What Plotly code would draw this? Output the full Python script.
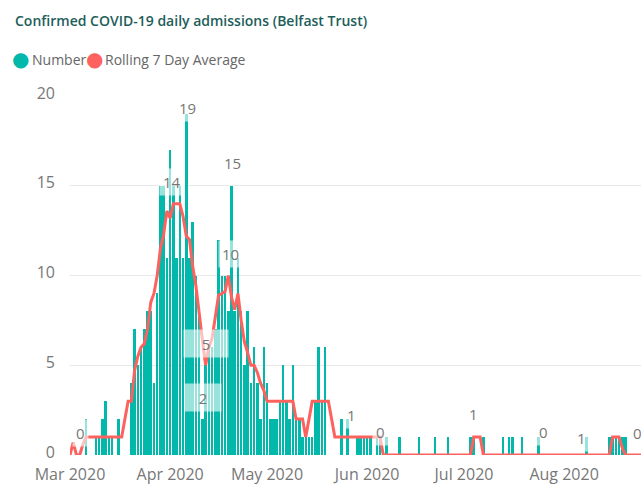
import pandas as pd
import plotly.graph_objects as go

# Daily confirmed COVID-19 admissions, Belfast Trust, from 1 March 2020
start_date = "2020-03-01"

admissions_mar = [0, 0, 0, 0, 0, 2, 0, 0, 1, 1,
                  2, 3, 1, 1, 0, 2, 0, 0, 0, 4,
                  7, 5, 6, 7, 8, 8, 4, 9, 15, 15,
                  11]
admissions_apr = [17, 15, 11, 15, 11, 19, 11, 13, 10, 8,
                  2, 5, 6, 6, 7, 12, 10, 10, 8, 15,
                  8, 11, 8, 5, 8, 4, 6, 4, 2, 6]
admissions_may = [4, 2, 2, 2, 3, 5, 3, 2, 5, 2,
                  2, 1, 1, 1, 1, 3, 6, 3, 6, 0,
                  0, 0, 0, 2, 0, 2, 0, 0, 1, 1,
                  1]
admissions_jun = [1, 1, 0, 1, 1, 0, 1, 0, 0, 0,
                  1, 0, 0, 0, 0, 0, 1, 0, 0, 0,
                  0, 1, 0, 0, 0, 1, 0, 0, 0, 0]
admissions_jul = [0, 0, 1, 1, 0, 0, 1, 0, 0, 0,
                  0, 0, 1, 0, 1, 1, 0, 0, 1, 0,
                  0, 0, 0, 1, 0, 0, 0, 0, 0, 0,
                  0]
admissions_aug = [0, 0, 0, 0, 0, 0, 0, 1, 0, 0,
                  0, 0, 0, 0, 1, 1, 1, 1, 1, 1,
                  0, 0, 0, 0, 0]

rolling_mar = [0, 0.7, 0, 0, 0.6, 1, 1, 1, 1, 1,
               1, 1, 1, 1, 1, 1, 1, 2, 3, 3,
               4.7, 5.5, 6, 6.2, 7, 8.5, 9, 10, 11.5, 12.3,
               13.6]
rolling_apr = [13.2, 14, 14, 14, 13.3, 12.2, 12, 10.5, 9.4, 7.8,
               6.4, 5, 6, 6.5, 7.6, 8.9, 9, 9.1, 10, 8.8,
               8.1, 9, 7.5, 6.3, 5.7, 5, 5, 4.6, 4, 3.6]
rolling_may = [3, 3, 3, 3, 3, 3, 3, 3, 3, 2,
               2, 2, 1, 2, 3, 3, 3, 3, 3, 3,
               2, 1, 1, 1, 1, 1, 1, 1, 1, 1,
               1]
rolling_jun = [1, 1, 1, 1, 1, 0, 0, 0, 0, 0,
               0, 0, 0, 0, 0, 0, 0, 0, 0, 0,
               0, 0, 0, 0, 0, 0, 0, 0, 0, 0]
rolling_jul = [0, 0, 0, 1, 1, 1, 0, 0, 0, 0,
               0, 0, 0, 0, 0, 0, 0, 0, 0, 0,
               0, 0, 0, 0, 0, 0, 0, 0, 0, 0,
               0]
rolling_aug = [0, 0, 0, 0, 0, 0, 0, 0, 0, 0,
               0, 0, 0, 0, 0, 1, 1, 1, 0.4, 0,
               0, 0, 0, 0, 0]

admissions = (admissions_mar + admissions_apr + admissions_may
              + admissions_jun + admissions_jul + admissions_aug)
rolling_avg = (rolling_mar + rolling_apr + rolling_may
               + rolling_jun + rolling_jul + rolling_aug)
dates = pd.date_range(start_date, periods=len(admissions), freq="D")

# Data labels: (series, day index, x shift px, y shift px)
labels = [
    ("avg", 3, 1, 22),
    ("avg", 32, -1, 22),
    ("num", 36, 1, 6),
    ("num", 50, 1, 23),
    ("avg", 49, 2, 22),
    ("avg", 42, 0, 22),
    ("num", 41, 1, 22),
    ("avg", 87, 1, 22),
    ("avg", 97, -3, 23),
    ("avg", 125, 0, 23),
    ("avg", 147, -1, 23),
    ("num", 160, -5, -1),
    ("avg", 176, -1, 22),
]

TEAL = "#01B8AA"
CORAL = "#FD625E"
GREY = "#777777"
FONT = "Segoe UI, Open Sans, sans-serif"

fig = go.Figure()
fig.add_trace(go.Bar(
    x=dates, y=admissions, name="Number",
    marker=dict(color=TEAL, line=dict(width=0)),
    width=0.78 * 86400000, showlegend=False,
))
fig.add_trace(go.Scatter(
    x=dates, y=rolling_avg, name="Rolling 7 Day Average",
    mode="lines", line=dict(color=CORAL, width=3),
    showlegend=False,
))

annotations = []
for series, idx, dx, dy in labels:
    val = admissions[idx] if series == "num" else rolling_avg[idx]
    ann = dict(
        x=dates[idx], y=val, xref="x", yref="y",
        text=str(int(round(val))), showarrow=False,
        xshift=dx, yshift=dy,
        font=dict(family=FONT, size=15, color=GREY),
        bgcolor="rgba(255,255,255,0.6)", borderpad=3,
    )
    if series == "avg" and idx == 42:
        ann.update(width=38, height=21, borderpad=3)
    if series == "num" and idx == 41:
        ann.update(width=30, height=21, borderpad=3)
    annotations.append(ann)

# Plot area geometry in pixels, used to place header text
L, R, T, B = 70, 641, 96, 455


def px_x(px):
    return (px - L) / (R - L)


def px_y(py):
    return (B - py) / (B - T)


annotations.append(dict(
    x=px_x(13), y=px_y(20), xref="paper", yref="paper",
    xanchor="left", yanchor="middle", showarrow=False,
    text="Confirmed COVID-19 daily admissions (Belfast Trust)",
    font=dict(family=FONT, size=14, color="#1D5E5A", weight=600),
))
legend_items = [(20, TEAL, 30, "Number"), (94, CORAL, 103, "Rolling 7 Day Average")]
for cx, col, tx, name in legend_items:
    annotations.append(dict(
        x=px_x(cx), y=px_y(59), xref="paper", yref="paper",
        xanchor="center", yanchor="middle", showarrow=False,
        text="●", font=dict(family="DejaVu Sans", size=20, color=col),
    ))
    annotations.append(dict(
        x=px_x(tx), y=px_y(59), xref="paper", yref="paper",
        xanchor="left", yanchor="middle", showarrow=False,
        text=name, font=dict(family=FONT, size=14, color="#666666"),
    ))

fig.update_layout(
    width=641, height=484,
    margin=dict(l=L, r=0, t=T, b=484 - B),
    paper_bgcolor="white", plot_bgcolor="white",
    bargap=0, showlegend=False,
    annotations=annotations,
    font=dict(family=FONT, color=GREY),
)
fig.update_xaxes(
    type="date",
    range=[pd.Timestamp(start_date), pd.Timestamp(start_date) + pd.Timedelta(days=176.8)],
    dtick="M1", tick0=start_date, tickformat="%b %Y",
    showgrid=False, showline=False, zeroline=False, ticks="",
    ticklabelstandoff=8, automargin=False,
    tickfont=dict(family=FONT, size=16, color=GREY),
)
fig.update_yaxes(
    range=[0, 20], dtick=5,
    showgrid=True, gridcolor="#E8E8E8", gridwidth=1,
    zeroline=False, showline=False, ticks="",
    ticklabelstandoff=14, ticklabelshift=-3, automargin=False,
    tickfont=dict(family=FONT, size=16, color=GREY),
)

fig.write_html("out.html")
